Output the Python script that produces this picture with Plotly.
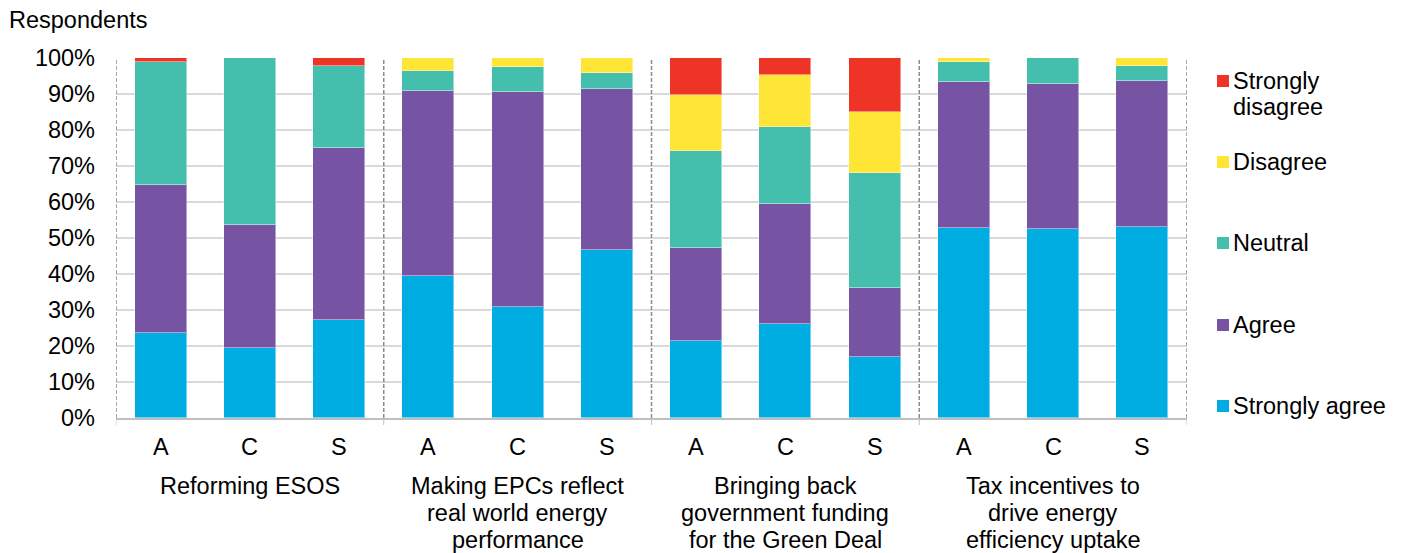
import plotly.graph_objects as go

# Survey responses: three respondent groups (A, C, S) for each of four policy options
topics = [
    "Reforming ESOS",
    "Making EPCs reflect<br>real world energy<br>performance",
    "Bringing back<br>government funding<br>for the Green Deal",
    "Tax incentives to<br>drive energy<br>efficiency uptake",
]
groups = ["A", "C", "S"]
y_ticks = [0, 10, 20, 30, 40, 50, 60, 70, 80, 90, 100]
y_tick_labels = ["0%", "10%", "20%", "30%", "40%", "50%", "60%", "70%", "80%", "90%", "100%"]

strongly_agree = [23.5, 19.4, 27.2, 39.4, 30.9, 46.8, 21.4, 26.1, 17.0, 52.8, 52.4, 53.1]
agree = [41.1, 34.2, 47.8, 51.5, 59.6, 44.5, 25.7, 33.3, 19.0, 40.4, 40.4, 40.5]
neutral = [34.2, 46.4, 22.8, 5.6, 7.0, 4.4, 27.0, 21.4, 32.0, 5.6, 7.2, 4.2]
disagree = [0.0, 0.0, 0.0, 3.5, 2.5, 4.3, 15.7, 14.5, 17.1, 1.2, 0.0, 2.2]
strongly_disagree = [1.2, 0.0, 2.2, 0.0, 0.0, 0.0, 10.2, 4.7, 14.9, 0.0, 0.0, 0.0]

series = [
    ("Strongly agree", strongly_agree, "#00ADE3"),
    ("Agree", agree, "#7654A3"),
    ("Neutral", neutral, "#45BFAD"),
    ("Disagree", disagree, "#FFE535"),
    ("Strongly disagree", strongly_disagree, "#EE3327"),
]

FONT = "Liberation Sans, Arial, sans-serif"
FS = 23.5
LINE_H = 27
n_bars = len(topics) * len(groups)
xs = list(range(n_bars))

plot_left, plot_right, plot_top, plot_bottom = 116, 1187, 58, 418
pw, ph = plot_right - plot_left, plot_bottom - plot_top


def px_x(v):
    return (v - plot_left) / pw


def px_y(v):
    return (plot_bottom - v) / ph


fig = go.Figure()
for name, vals, col in series:
    fig.add_trace(go.Bar(
        x=xs, y=vals, name=name,
        marker=dict(color=col, line=dict(color="rgba(255,255,255,0.45)", width=1)),
        width=0.58, showlegend=False,
    ))

# Group separators (dashed) at the edges of each topic block
shapes = []
for k in range(len(topics) + 1):
    xb = k * len(groups) - 0.5
    shapes.append(dict(type="line", xref="x", yref="y", x0=xb, x1=xb, y0=0, y1=100,
                       line=dict(color="#8C8C8C", width=1.5, dash="4px,2px"), layer="above"))
    shapes.append(dict(type="line", xref="x", yref="paper", x0=xb, x1=xb, y0=0, y1=px_y(425),
                       line=dict(color="#BFBFBF", width=1)))

annotations = []
# Respondent group labels under each bar
for i in xs:
    annotations.append(dict(x=i, y=px_y(447), xref="x", yref="paper", text=groups[i % 3],
                            showarrow=False, yanchor="middle", font=dict(size=FS, color="#000")))
# Topic labels centred under each block, one annotation per line for tight spacing
for k, t in enumerate(topics):
    for j, line in enumerate(t.split("<br>")):
        annotations.append(dict(x=k * 3 + 1, y=px_y(486 + j * LINE_H), xref="x", yref="paper",
                                text=line, showarrow=False, yanchor="middle",
                                font=dict(size=FS, color="#000")))
annotations.append(dict(x=px_x(7), y=px_y(20), xref="paper", yref="paper",
                        text="Respondents", showarrow=False, xanchor="left", yanchor="middle",
                        font=dict(size=FS, color="#000")))

# Legend drawn beside the plot
legend_items = [
    ("Strongly<br>disagree", "#EE3327", 81),
    ("Disagree", "#FFE535", 162),
    ("Neutral", "#45BFAD", 243),
    ("Agree", "#7654A3", 325),
    ("Strongly agree", "#00ADE3", 406),
]
for label, col, yc in legend_items:
    shapes.append(dict(type="rect", xref="paper", yref="paper",
                       x0=px_x(1217), x1=px_x(1229), y0=px_y(yc + 6), y1=px_y(yc - 6),
                       fillcolor=col, line=dict(width=0)))
    for j, line in enumerate(label.split("<br>")):
        annotations.append(dict(x=px_x(1231), y=px_y(yc + j * 26), xref="paper", yref="paper",
                                text=line, showarrow=False, xanchor="left", yanchor="middle",
                                font=dict(size=FS, color="#000")))

fig.update_layout(
    barmode="stack",
    width=1405, height=553,
    margin=dict(l=plot_left, r=1405 - plot_right, t=plot_top, b=553 - plot_bottom),
    paper_bgcolor="white", plot_bgcolor="white",
    font=dict(family=FONT, size=FS, color="#000"),
    bargap=0,
    xaxis=dict(range=[-0.5, n_bars - 0.5], showticklabels=False, showgrid=False,
               zeroline=False, showline=True, linecolor="#BFBFBF", linewidth=1.5,
               fixedrange=True),
    yaxis=dict(range=[0, 100], tickmode="array", tickvals=y_ticks, ticktext=y_tick_labels,
               showgrid=True, gridcolor="#D9D9D9", gridwidth=1.5, zeroline=False,
               showline=False, ticklabelstandoff=20, tickfont=dict(size=FS, color="#000"),
               fixedrange=True),
    shapes=shapes,
    annotations=annotations,
)

fig.write_html("out.html")
